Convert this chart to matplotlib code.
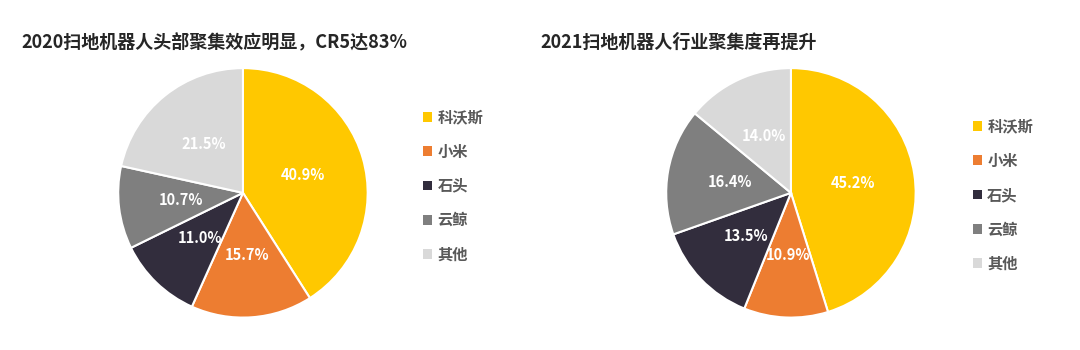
import matplotlib
matplotlib.use("Agg")
import numpy as np
import matplotlib.pyplot as plt
from matplotlib.patches import Patch

plt.rcParams['font.family'] = ['Noto Sans CJK SC', 'DejaVu Sans']

brands = ["科沃斯", "小米", "石头", "云鲸", "其他"]
share_2020 = [40.9, 15.7, 11.0, 10.7, 21.5]
share_2021 = [45.2, 10.9, 13.5, 16.4, 14.0]
colors = ["#FFC800", "#ED7D31", "#322D3D", "#7F7F7F", "#D9D9D9"]

title_2020 = "2020扫地机器人头部聚集效应明显，CR5达83%"
title_2021 = "2021扫地机器人行业聚集度再提升"

fig = plt.figure(figsize=(10.8, 3.5), dpi=100)
fig.patch.set_facecolor("white")


def draw_pie(rect, values, legend_xy, title, title_xy):
    ax = fig.add_axes(rect)
    wedges, _ = ax.pie(values, colors=colors, startangle=90, counterclock=False,
                       radius=1, wedgeprops=dict(edgecolor="white", linewidth=1.5))
    # percent labels as printed in the source (not renormalised)
    for w, v in zip(wedges, values):
        mid = np.deg2rad((w.theta1 + w.theta2) / 2)
        ax.text(0.5 * np.cos(mid), 0.5 * np.sin(mid), f"{v:.1f}%",
                ha="center", va="center", color="white",
                fontsize=10.5, fontweight="bold")
    ax.set_xlim(-1.01, 1.01)
    ax.set_ylim(-1.01, 1.01)
    ax.set_aspect("equal")
    ax.axis("off")

    handles = [Patch(facecolor=c, edgecolor="none") for c in colors]
    leg = fig.legend(handles, brands, loc="center left", bbox_to_anchor=legend_xy,
                     frameon=False, fontsize=11, labelcolor="#595959",
                     handlelength=0.6, handleheight=0.6, handletextpad=0.35,
                     labelspacing=1.2)
    for t in leg.get_texts():
        t.set_fontweight("bold")

    fig.text(title_xy[0], title_xy[1], title, fontsize=13, fontweight="bold",
             color="#262626", ha="left", va="center")


draw_pie([0.1083, 0.089, 0.2333, 0.72], share_2020, (0.379, 0.469),
         title_2020, (0.020, 0.88))
draw_pie([0.6157, 0.089, 0.2333, 0.72], share_2021, (0.888, 0.443),
         title_2021, (0.500, 0.88))

fig.savefig("out.png", dpi=100)
